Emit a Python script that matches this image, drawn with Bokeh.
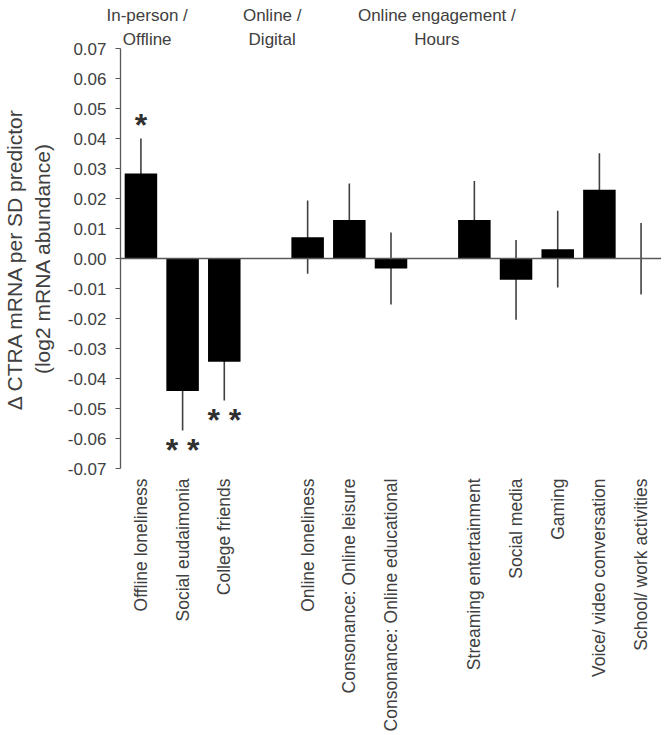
import math
from bokeh.plotting import figure
from bokeh.models import (Range1d, FixedTicker, PrintfTickFormatter, Span, LinearAxis)
from bokeh.embed import file_html
from bokeh.resources import INLINE
from bokeh.core.properties import value

# ---------------- data ----------------
group_titles = ["In-person /\nOffline", "Online /\nDigital", "Online engagement /\nHours"]
group_labels = [
    ["Offline loneliness", "Social eudaimonia", "College friends"],
    ["Online loneliness", "Consonance: Online leisure", "Consonance: Online educational"],
    ["Streaming entertainment", "Social media", "Gaming", "Voice/ video conversation",
     "School/ work activities"],
]
values = [0.0283, -0.0442, -0.0344,
          0.0071, 0.0128, -0.0033,
          0.0128, -0.0071, 0.0031, 0.0229, -0.0001]
errors = [0.0117, 0.0131, 0.0129,
          0.0122, 0.0122, 0.0120,
          0.0130, 0.0133, 0.0128, 0.0122, 0.0119]
signif = ["*", "**", "**", "", "", "", "", "", "", "", ""]
y_ticks = [round(-0.07 + 0.01 * i, 2) for i in range(15)]

# ---------------- positions from group structure ----------------
xs, labels, group_start = [], [], []
pos = 0
for g in group_labels:
    group_start.append(pos)
    for lab in g:
        xs.append(pos)
        labels.append(lab)
        pos += 1
    pos += 1  # gap slot between groups

lo = [v - e for v, e in zip(values, errors)]
hi = [v + e for v, e in zip(values, errors)]

TXT = "#404040"
AX = "#595959"
FONT = "Liberation Sans"

p = figure(frame_width=541, frame_height=420, output_backend="svg", toolbar_location=None,
           x_range=Range1d(-0.49, xs[-1] + 0.49), y_range=Range1d(-0.07, 0.07),
           min_border_left=118, min_border_right=0, min_border_top=48, min_border_bottom=20)
p.outline_line_color = None
p.grid.visible = False

# error bars (beneath bars)
p.segment(x0=xs, y0=lo, x1=xs, y1=hi, line_color="#404040", line_width=1.6)
# bars
p.vbar(x=xs, top=values, bottom=0, width=0.78, fill_color="black", line_color=None)
# zero line
p.add_layout(Span(location=0, dimension="width", line_color=AX, line_width=1.5))

# significance stars
st_x, st_y, st_t = [], [], []
for x, v, e, s in zip(xs, values, errors, signif):
    if s:
        sgn = 1 if v >= 0 else -1
        st_x.append(x)
        st_y.append(v + sgn * (e + 0.0055))
        st_t.append(" ".join(s))
p.text(x=st_x, y=st_y, text=st_t, text_align="center", text_baseline="middle",
       text_font=value(FONT), text_font_size="32px", text_font_style="bold",
       text_color="#303030", y_offset=3)

# group headers: an axis above the frame
hdr_off = [0.15, -0.85, -0.9]
hdr_pos = [gs + off for gs, off in zip(group_start, hdr_off)]
top_axis = LinearAxis(ticker=FixedTicker(ticks=hdr_pos),
                      major_label_overrides={h: t for h, t in zip(hdr_pos, group_titles)})
top_axis.axis_line_color = None
top_axis.major_tick_line_color = None
top_axis.minor_tick_line_color = None
top_axis.major_tick_out = 0
top_axis.major_tick_in = 0
top_axis.major_label_text_font = FONT
top_axis.major_label_text_font_size = "17px"
top_axis.major_label_text_color = TXT
top_axis.major_label_text_line_height = 1.25
top_axis.major_label_standoff = 0
p.add_layout(top_axis, "above")

# y axis
ya = p.yaxis[0]
ya.ticker = FixedTicker(ticks=y_ticks)
ya.formatter = PrintfTickFormatter(format="%.2f")
ya.axis_line_color = AX
ya.axis_line_width = 1.3
ya.major_tick_line_color = AX
ya.major_tick_out = 5
ya.major_tick_in = 0
ya.minor_tick_out = 0
ya.minor_tick_in = 0
ya.major_label_text_font = FONT
ya.major_label_text_font_size = "17px"
ya.major_label_text_color = TXT
ya.major_label_standoff = 9
ya.axis_label = "Δ CTRA mRNA per SD predictor\n(log2 mRNA abundance)"
ya.axis_label_text_font = FONT
ya.axis_label_text_font_size = "21px"
ya.axis_label_text_font_style = "normal"
ya.axis_label_text_color = TXT
ya.axis_label_text_line_height = 1.2
ya.axis_label_standoff = 11

# bottom x axis: category labels only
xa = p.below[0]
xa.ticker = FixedTicker(ticks=xs)
xa.major_label_overrides = {x: lab for x, lab in zip(xs, labels)}
xa.major_label_orientation = math.pi / 2
xa.axis_line_color = None
xa.major_tick_line_color = None
xa.minor_tick_line_color = None
xa.major_label_text_font = FONT
xa.major_label_text_font_size = "17.5px"
xa.major_label_text_color = TXT
xa.major_label_standoff = 4

open("out.html", "w").write(file_html(p, INLINE))
